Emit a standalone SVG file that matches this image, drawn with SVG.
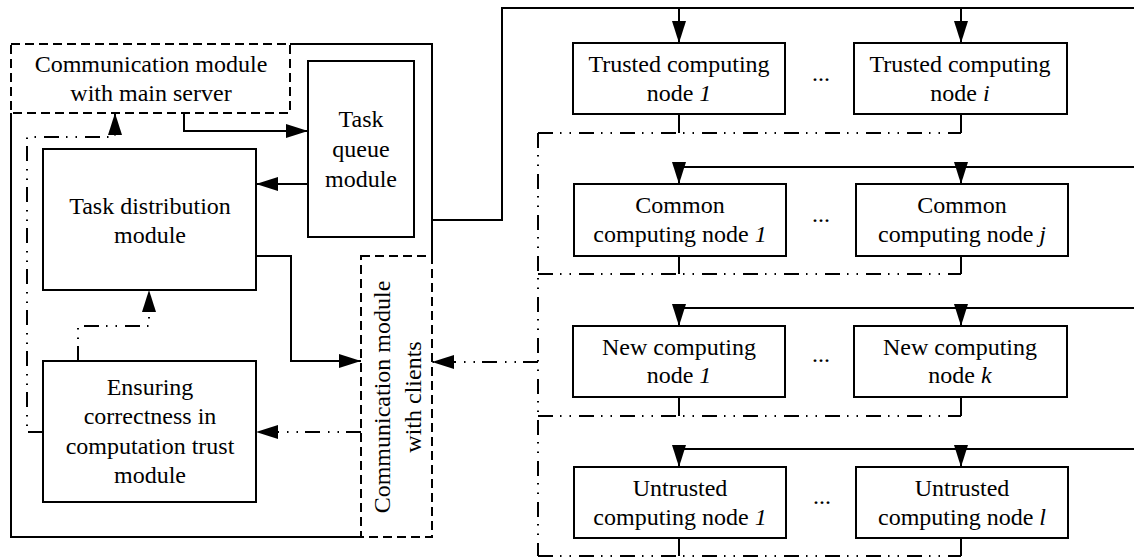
<svg xmlns="http://www.w3.org/2000/svg" width="1134" height="558" viewBox="0 0 1134 558">
  <style>
    .box { fill: #fff; stroke: #000; stroke-width: 2; }
    .dash { fill: none; stroke: #000; stroke-width: 2; stroke-dasharray: 9 5; }
    .solid { fill: none; stroke: #000; stroke-width: 2; }
    .dd { fill: none; stroke: #000; stroke-width: 2; stroke-dasharray: 15 7 1.5 8 1.5 8; }
    text { font-family: "Liberation Serif", "Times New Roman", serif; font-size: 24px; fill: #000; text-anchor: middle; }
    .it { font-style: italic; }
  </style>
  <defs>
    <marker id="arrow" markerUnits="userSpaceOnUse" markerWidth="22" markerHeight="14" refX="22" refY="7" orient="auto">
      <path d="M0,0 L22,7 L0,14 z" fill="#000"/>
    </marker>
  </defs>

  <!-- server-side frame -->
  <g id="server-frame">
    <path class="solid" d="M290,44 H432 V256 M361,537 H11 V113"/>
  </g>

  <!-- client-side grouping lines -->
  <g id="node-groups">
    <path class="dd" d="M538,133 V556"/>
    <path class="dd" d="M538,133 H961"/>
    <path class="dd" d="M538,274 H961"/>
    <path class="dd" d="M538,416 H961"/>
    <path class="dd" d="M538,556 H961"/>
  </g>

  <g id="connectors">
    <!-- main server link into the node buses -->
    <path class="solid" d="M432,220 H502 V8 H1134"/>
    <path class="solid" d="M679,167 H1134"/>
    <path class="solid" d="M679,308 H1134"/>
    <path class="solid" d="M679,449 H1134"/>
    <path class="solid" d="M679,8 V43" marker-end="url(#arrow)"/>
    <path class="solid" d="M961,8 V43" marker-end="url(#arrow)"/>
    <path class="solid" d="M679,167 V184" marker-end="url(#arrow)"/>
    <path class="solid" d="M961,167 V184" marker-end="url(#arrow)"/>
    <path class="solid" d="M679,308 V326" marker-end="url(#arrow)"/>
    <path class="solid" d="M961,308 V326" marker-end="url(#arrow)"/>
    <path class="solid" d="M679,449 V467" marker-end="url(#arrow)"/>
    <path class="solid" d="M961,449 V467" marker-end="url(#arrow)"/>
    <!-- stubs below node boxes -->
    <path class="solid" d="M679,114 V133 M961,114 V133 M679,256 V274 M961,256 V274 M679,397 V416 M961,397 V416 M679,538 V556 M961,538 V556"/>
    <!-- server internals -->
    <path class="solid" d="M184,113 V131 H308" marker-end="url(#arrow)"/>
    <path class="solid" d="M308,184 H256" marker-end="url(#arrow)"/>
    <path class="solid" d="M256,256 H291 V361 H361" marker-end="url(#arrow)"/>
    <path class="dd" d="M43,432 H27 V137 H115 V113" marker-end="url(#arrow)"/>
    <path class="dd" d="M78,361 V326 H149 V290" marker-end="url(#arrow)"/>
    <path class="dd" d="M361,432 H256" marker-end="url(#arrow)"/>
    <path class="dd" d="M538,362 H432" marker-end="url(#arrow)"/>
  </g>

  <g id="comm-main-server">
    <rect class="dash" x="11" y="44" width="279" height="69"/>
    <text x="151" y="72">Communication module</text>
    <text x="151" y="101">with main server</text>
  </g>

  <g id="task-queue">
    <rect class="box" x="308" y="61" width="106" height="176"/>
    <text x="361" y="127">Task</text>
    <text x="361" y="157">queue</text>
    <text x="361" y="187">module</text>
  </g>

  <g id="task-distribution">
    <rect class="box" x="43" y="149" width="213" height="141"/>
    <text x="150" y="214">Task distribution</text>
    <text x="150" y="243">module</text>
  </g>

  <g id="trust-module">
    <rect class="box" x="43" y="361" width="213" height="141"/>
    <text x="150" y="395">Ensuring</text>
    <text x="150" y="424">correctness in</text>
    <text x="150" y="454">computation trust</text>
    <text x="150" y="483">module</text>
  </g>

  <g id="comm-clients">
    <rect class="dash" x="361" y="256" width="71" height="281"/>
    <text transform="translate(390,397) rotate(-90)">Communication module</text>
    <text transform="translate(421,397) rotate(-90)">with clients</text>
  </g>

  <g id="trusted-1">
    <rect class="box" x="573" y="43" width="212" height="71"/>
    <text x="679" y="72">Trusted computing</text>
    <text x="679" y="101">node <tspan class="it">1</tspan></text>
  </g>
  <g id="trusted-i">
    <rect class="box" x="854" y="43" width="213" height="71"/>
    <text x="960" y="72">Trusted computing</text>
    <text x="960" y="101">node <tspan class="it">i</tspan></text>
  </g>

  <g id="common-1">
    <rect class="box" x="574" y="184" width="212" height="72"/>
    <text x="680" y="213">Common</text>
    <text x="680" y="242">computing node <tspan class="it">1</tspan></text>
  </g>
  <g id="common-j">
    <rect class="box" x="856" y="184" width="212" height="72"/>
    <text x="962" y="213">Common</text>
    <text x="962" y="242">computing node <tspan class="it">j</tspan></text>
  </g>

  <g id="new-1">
    <rect class="box" x="573" y="326" width="212" height="71"/>
    <text x="679" y="355">New computing</text>
    <text x="679" y="383">node <tspan class="it">1</tspan></text>
  </g>
  <g id="new-k">
    <rect class="box" x="854" y="326" width="213" height="71"/>
    <text x="960" y="355">New computing</text>
    <text x="960" y="383">node <tspan class="it">k</tspan></text>
  </g>

  <g id="untrusted-1">
    <rect class="box" x="574" y="467" width="212" height="71"/>
    <text x="680" y="496">Untrusted</text>
    <text x="680" y="525">computing node <tspan class="it">1</tspan></text>
  </g>
  <g id="untrusted-l">
    <rect class="box" x="856" y="467" width="212" height="71"/>
    <text x="962" y="496">Untrusted</text>
    <text x="962" y="525">computing node <tspan class="it">l</tspan></text>
  </g>

  <g id="ellipses">
    <text x="821" y="81">...</text>
    <text x="821" y="222">...</text>
    <text x="821" y="362">...</text>
    <text x="822" y="504">...</text>
  </g>
</svg>
